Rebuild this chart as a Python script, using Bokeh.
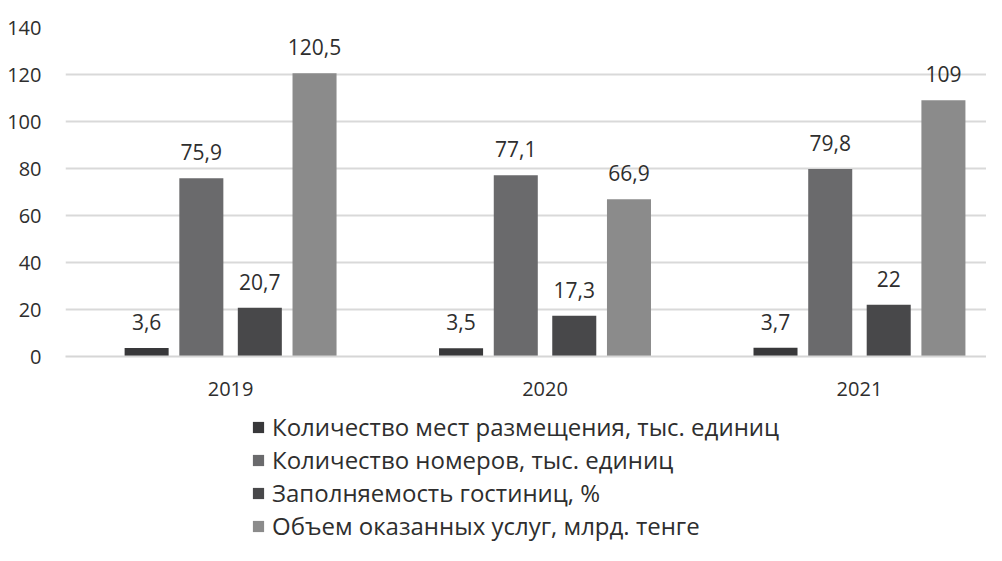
from bokeh.plotting import figure
from bokeh.models import ColumnDataSource, Legend, LegendItem, LabelSet, Range1d, FixedTicker
from bokeh.layouts import column
from bokeh.embed import file_html
from bokeh.resources import INLINE
from bokeh.core.properties import value

years = ["2019", "2020", "2021"]
places = [3.6, 3.5, 3.7]
rooms = [75.9, 77.1, 79.8]
occupancy = [20.7, 17.3, 22]
services = [120.5, 66.9, 109]
series_names = [
    "Количество мест размещения, тыс. единиц",
    "Количество номеров, тыс. единиц",
    "Заполняемость гостиниц, %",
    "Объем оказанных услуг, млрд. тенге",
]
y_ticks = [0, 20, 40, 60, 80, 100, 120, 140]

colors = ["#38383a", "#6a6a6c", "#48484a", "#8b8b8b"]
offsets = [-0.267, -0.093, 0.093, 0.267]
FONT = "Open Sans"
TXT = "#2e2e2e"


def fmt(v):
    return f"{v:g}".replace(".", ",")


centers = [i + 0.5 for i in range(len(years))]
series = [places, rooms, occupancy, services]

p = figure(
    x_range=Range1d(-0.025, 2.904), y_range=Range1d(0, 140), width=986, height=406,
    output_backend="svg", toolbar_location=None,
    min_border_left=65, min_border_top=27, min_border_right=0, min_border_bottom=50,
)
p.outline_line_color = None
p.background_fill_color = "white"
p.border_fill_color = "white"

for i, s in enumerate(series):
    src = ColumnDataSource(dict(x=[c + offsets[i] for c in centers], top=s,
                                lbl=[fmt(v) for v in s]))
    p.vbar(x="x", top="top", width=0.14, source=src, fill_color=colors[i], line_color=None)
    p.add_layout(LabelSet(x="x", y="top", text="lbl", source=src, text_align="center",
                          text_baseline="alphabetic", y_offset=18, text_font=value(FONT),
                          text_font_size="21px", text_color=TXT))

p.yaxis.ticker = FixedTicker(ticks=y_ticks)
p.yaxis.axis_line_color = None
p.yaxis.major_tick_line_color = None
p.yaxis.minor_tick_line_color = None
p.yaxis.major_label_text_font = FONT
p.yaxis.major_label_text_font_size = "20px"
p.yaxis.major_label_text_color = TXT
p.yaxis.major_label_standoff = 18

p.xaxis.ticker = FixedTicker(ticks=centers)
p.xaxis.major_label_overrides = {c: y for c, y in zip(centers, years)}
p.xaxis.axis_line_color = "#d6d6d6"
p.xaxis.axis_line_width = 2
p.xaxis.major_tick_line_color = None
p.xaxis.minor_tick_line_color = None
p.xaxis.major_label_text_font = FONT
p.xaxis.major_label_text_font_size = "20px"
p.xaxis.major_label_text_color = TXT
p.xaxis.major_label_standoff = 19

p.xgrid.grid_line_color = None
p.ygrid.grid_line_color = "#d9d9d9"
p.ygrid.grid_line_width = 2

# legend figure below the chart (its ranges keep the legend's own bars out of view)
q = figure(
    x_range=Range1d(-10, -9), y_range=Range1d(0, 1), width=986, height=139,
    output_backend="svg", toolbar_location=None,
    x_axis_location=None, y_axis_location=None,
    min_border_left=0, min_border_top=0, min_border_right=0, min_border_bottom=0,
)
q.outline_line_color = None
q.grid.grid_line_color = None
q.background_fill_color = "white"
q.border_fill_color = "white"

items = []
for i, name in enumerate(series_names):
    r = q.vbar(x=centers, top=series[i], width=0.1, fill_color=colors[i], line_color=None)
    items.append(LegendItem(label=name, renderers=[r]))

legend = Legend(items=items, location=(186, 3), orientation="vertical")
legend.label_text_font = FONT
legend.label_text_font_size = "24px"
legend.label_text_color = TXT
legend.label_height = 30
legend.glyph_height = 14
legend.glyph_width = 14
legend.label_standoff = 7
legend.spacing = 0
legend.padding = 0
legend.margin = 0
legend.border_line_color = None
legend.background_fill_alpha = 0
q.add_layout(legend, "center")

layout = column(p, q, spacing=0)
open("out.html", "w").write(file_html(layout, INLINE))
